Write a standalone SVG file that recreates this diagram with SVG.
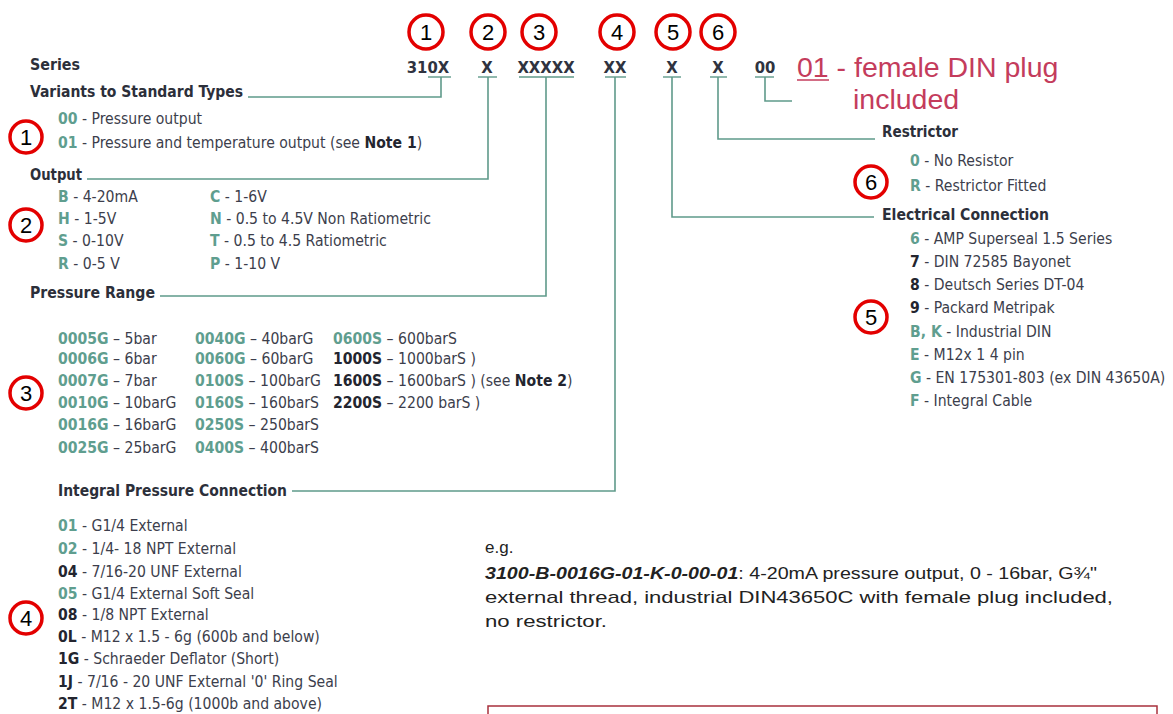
<svg xmlns="http://www.w3.org/2000/svg" width="1173" height="714" viewBox="0 0 1173 714">
<style>
text{font-family:"Liberation Sans Narrow","DejaVu Sans Condensed","Liberation Sans",sans-serif}
.h{font-size:16px;font-weight:bold;fill:#2c2f3a}
.t{font-size:15.6px;fill:#3c3e4c}
.g{fill:#5f9e8f;font-weight:bold}
.k{fill:#23252f;font-weight:bold}
.code{font-size:16.5px;font-weight:bold;fill:#2f3340;text-anchor:middle}
.ln{stroke:#5f9a8a;stroke-width:1.6;fill:none}
.ul{stroke:#5f9a8a;stroke-width:1.4}
.ring{fill:#fff;stroke:#e30000;stroke-width:3.5}
.num{font-family:"Liberation Sans",sans-serif;font-size:22px;fill:#000;text-anchor:middle}
.eg{font-family:"Liberation Sans",sans-serif;font-size:17px;fill:#222}
.red{font-family:"Liberation Sans",sans-serif;font-size:28.5px;fill:#c43c5c}
</style>
<rect width="1173" height="714" fill="#fff"/>

<g id="connectors">
<polyline class="ln" points="441,77 441,97 248,97"/>
<polyline class="ln" points="488,77 488,179 87,179"/>
<polyline class="ln" points="546,77 546,296 160,296"/>
<polyline class="ln" points="615,77 615,491 292,491"/>
<polyline class="ln" points="672,77 672,217 874,217"/>
<polyline class="ln" points="718,77 718,139 875,139"/>
<polyline class="ln" points="765,77 765,101 792,101"/>
</g>

<g id="code-row">
<text class="code" x="428" y="73">310X</text>
<text class="code" x="487" y="73">X</text>
<text class="code" x="546" y="73">XXXXX</text>
<text class="code" x="615" y="73">XX</text>
<text class="code" x="672" y="73">X</text>
<text class="code" x="718" y="73">X</text>
<text class="code" x="765" y="73">00</text>
<line class="ul" x1="428" y1="77" x2="451" y2="77"/>
<line class="ul" x1="478" y1="77" x2="497" y2="77"/>
<line class="ul" x1="519" y1="77" x2="574" y2="77"/>
<line class="ul" x1="605" y1="77" x2="626" y2="77"/>
<line class="ul" x1="663" y1="77" x2="681" y2="77"/>
<line class="ul" x1="710" y1="77" x2="727" y2="77"/>
<line class="ul" x1="755" y1="77" x2="774" y2="77"/>
</g>

<g id="top-markers">
<circle class="ring" cx="426" cy="32" r="17"/><text class="num" x="426" y="40">1</text>
<circle class="ring" cx="488" cy="32" r="17"/><text class="num" x="488" y="40">2</text>
<circle class="ring" cx="539" cy="32" r="17"/><text class="num" x="539" y="40">3</text>
<circle class="ring" cx="617" cy="32" r="17"/><text class="num" x="617" y="40">4</text>
<circle class="ring" cx="673" cy="32" r="17"/><text class="num" x="673" y="40">5</text>
<circle class="ring" cx="718" cy="32" r="17"/><text class="num" x="718" y="40">6</text>
</g>

<g id="plug-note">
<text class="red" x="797" y="77">01<tspan> - female DIN plug</tspan></text>
<line x1="797" y1="80" x2="829" y2="80" stroke="#c43c5c" stroke-width="1.5"/>
<text class="red" x="853" y="109">included</text>
</g>

<g id="series">
<text class="h" x="30" y="70" textLength="50" lengthAdjust="spacingAndGlyphs">Series</text>
</g>

<g id="variants">
<text class="h" x="30" y="97" textLength="213" lengthAdjust="spacingAndGlyphs">Variants to Standard Types</text>
<text class="t" x="58" y="124"><tspan class="g">00</tspan> - Pressure output</text>
<text class="t" x="58" y="148"><tspan class="g">01</tspan> - Pressure and temperature output (see <tspan class="k">Note 1</tspan>)</text>
<circle class="ring" cx="26" cy="137" r="16"/><text class="num" x="26" y="145">1</text>
</g>

<g id="output">
<text class="h" x="30" y="180" textLength="52" lengthAdjust="spacingAndGlyphs">Output</text>
<text class="t" x="58" y="202"><tspan class="g">B</tspan> - 4-20mA</text>
<text class="t" x="58" y="224"><tspan class="g">H</tspan> - 1-5V</text>
<text class="t" x="58" y="246"><tspan class="g">S</tspan> - 0-10V</text>
<text class="t" x="58" y="269"><tspan class="g">R</tspan> - 0-5 V</text>
<text class="t" x="210" y="202"><tspan class="g">C</tspan> - 1-6V</text>
<text class="t" x="210" y="224"><tspan class="g">N</tspan> - 0.5 to 4.5V Non Ratiometric</text>
<text class="t" x="210" y="246"><tspan class="g">T</tspan> - 0.5 to 4.5 Ratiometric</text>
<text class="t" x="210" y="269"><tspan class="g">P</tspan> - 1-10 V</text>
<circle class="ring" cx="26" cy="225" r="16"/><text class="num" x="26" y="233">2</text>
</g>

<g id="pressure-range">
<text class="h" x="30" y="298" textLength="125" lengthAdjust="spacingAndGlyphs">Pressure Range</text>
<text class="t" x="58" y="344"><tspan class="g">0005G</tspan> – 5bar</text>
<text class="t" x="58" y="364"><tspan class="g">0006G</tspan> – 6bar</text>
<text class="t" x="58" y="386"><tspan class="g">0007G</tspan> – 7bar</text>
<text class="t" x="58" y="408"><tspan class="g">0010G</tspan> – 10barG</text>
<text class="t" x="58" y="430"><tspan class="g">0016G</tspan> – 16barG</text>
<text class="t" x="58" y="453"><tspan class="g">0025G</tspan> – 25barG</text>
<text class="t" x="195" y="344"><tspan class="g">0040G</tspan> – 40barG</text>
<text class="t" x="195" y="364"><tspan class="g">0060G</tspan> – 60barG</text>
<text class="t" x="195" y="386"><tspan class="g">0100S</tspan> – 100barG</text>
<text class="t" x="195" y="408"><tspan class="g">0160S</tspan> – 160barS</text>
<text class="t" x="195" y="430"><tspan class="g">0250S</tspan> – 250barS</text>
<text class="t" x="195" y="453"><tspan class="g">0400S</tspan> – 400barS</text>
<text class="t" x="333" y="344"><tspan class="g">0600S</tspan> – 600barS</text>
<text class="t" x="333" y="364"><tspan class="k">1000S</tspan> – 1000barS )</text>
<text class="t" x="333" y="386"><tspan class="k">1600S</tspan> – 1600barS ) (see <tspan class="k">Note 2</tspan>)</text>
<text class="t" x="333" y="408"><tspan class="k">2200S</tspan> – 2200 barS )</text>
<circle class="ring" cx="26" cy="393" r="16"/><text class="num" x="26" y="401">3</text>
</g>

<g id="integral-connection">
<text class="h" x="58" y="496" textLength="229" lengthAdjust="spacingAndGlyphs">Integral Pressure Connection</text>
<text class="t" x="58" y="531"><tspan class="g">01</tspan> - G1/4 External</text>
<text class="t" x="58" y="554"><tspan class="g">02</tspan> - 1/4- 18 NPT External</text>
<text class="t" x="58" y="577"><tspan class="k">04</tspan> - 7/16-20 UNF External</text>
<text class="t" x="58" y="599"><tspan class="g">05</tspan> - G1/4 External Soft Seal</text>
<text class="t" x="58" y="620"><tspan class="k">08</tspan> - 1/8 NPT External</text>
<text class="t" x="58" y="642"><tspan class="k">0L</tspan> - M12 x 1.5 - 6g (600b and below)</text>
<text class="t" x="58" y="664"><tspan class="k">1G</tspan> - Schraeder Deflator (Short)</text>
<text class="t" x="58" y="687"><tspan class="k">1J</tspan> - 7/16 - 20 UNF External '0' Ring Seal</text>
<text class="t" x="58" y="709"><tspan class="k">2T</tspan> - M12 x 1.5-6g (1000b and above)</text>
<circle class="ring" cx="26" cy="618" r="16"/><text class="num" x="26" y="626">4</text>
</g>

<g id="restrictor">
<text class="h" x="882" y="137" textLength="76" lengthAdjust="spacingAndGlyphs">Restrictor</text>
<text class="t" x="910" y="166"><tspan class="g">0</tspan> - No Resistor</text>
<text class="t" x="910" y="191"><tspan class="g">R</tspan> - Restrictor Fitted</text>
<circle class="ring" cx="871" cy="182" r="16"/><text class="num" x="871" y="190">6</text>
</g>

<g id="electrical-connection">
<text class="h" x="882" y="220" textLength="167" lengthAdjust="spacingAndGlyphs">Electrical Connection</text>
<text class="t" x="910" y="244"><tspan class="g">6</tspan> - AMP Superseal 1.5 Series</text>
<text class="t" x="910" y="267"><tspan class="k">7</tspan> - DIN 72585 Bayonet</text>
<text class="t" x="910" y="290"><tspan class="k">8</tspan> - Deutsch Series DT-04</text>
<text class="t" x="910" y="313"><tspan class="k">9</tspan> - Packard Metripak</text>
<text class="t" x="910" y="337"><tspan class="g">B, K</tspan> - Industrial DIN</text>
<text class="t" x="910" y="360"><tspan class="g">E</tspan> - M12x 1 4 pin</text>
<text class="t" x="910" y="383"><tspan class="g">G</tspan> - EN 175301-803 (ex DIN 43650A)</text>
<text class="t" x="910" y="406"><tspan class="g">F</tspan> - Integral Cable</text>
<circle class="ring" cx="871" cy="317" r="16"/><text class="num" x="871" y="325">5</text>
</g>

<g id="example">
<text class="eg" x="485" y="553">e.g.</text>
<text class="eg" x="485" y="579" textLength="612" lengthAdjust="spacingAndGlyphs"><tspan font-weight="bold" font-style="italic">3100-B-0016G-01-K-0-00-01</tspan>: 4-20mA pressure output, 0 - 16bar, G¾"</text>
<text class="eg" x="485" y="603" textLength="628" lengthAdjust="spacingAndGlyphs">external thread, industrial DIN43650C with female plug included,</text>
<text class="eg" x="485" y="627" textLength="122" lengthAdjust="spacingAndGlyphs">no restrictor.</text>
</g>

<g id="note-box">
<rect x="488" y="706" width="669" height="20" fill="none" stroke="#a8303c" stroke-width="1.5"/>
</g>
</svg>
